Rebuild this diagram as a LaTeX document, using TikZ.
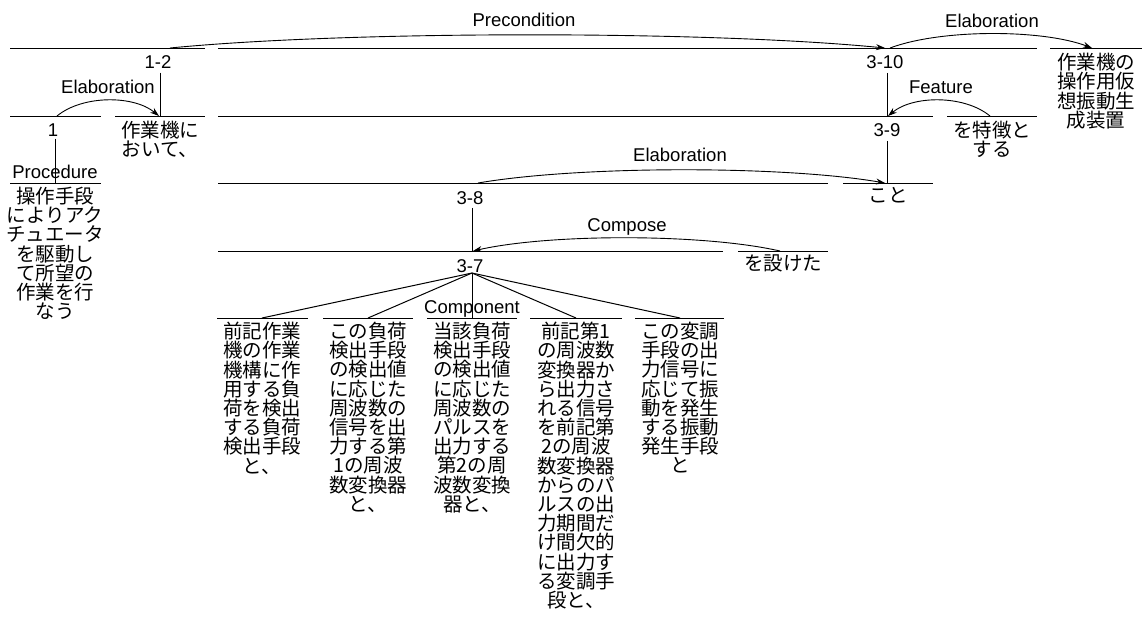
\documentclass[tikz,border=0pt]{standalone}
\usepackage{fontspec}
\setmainfont{Liberation Sans}
\newfontfamily\jpfont{Noto Sans CJK JP}
\usetikzlibrary{arrows.meta,calc}
\tikzset{
  seg/.style={line width=1pt},
  stem/.style={line width=1pt},
  num/.style={font=\fontsize{18.5}{20}\selectfont, inner sep=0pt, anchor=base},
  rlab/.style={font=\fontsize{18.5}{20}\selectfont, inner sep=0pt, anchor=base},
  jtext/.style={font=\jpfont\fontsize{19.5}{19.2}\selectfont, align=center, inner sep=0pt, anchor=north},
  rel/.style={line width=0.9pt, -{Stealth[length=9pt,width=6pt]}},
}
\newcommand\relarc[3]{\draw[rel] (#1) .. controls ($(#1)!0.25!(#2)+(0,-#3)$) and ($(#1)!0.75!(#2)+(0,-#3)$) .. (#2);}
\begin{document}
\begin{tikzpicture}[x=1pt,y=-1pt]
\useasboundingbox (0,0) rectangle (1145,633);
\fill[white] (0,0) rectangle (1145,633);

% horizontal segments
\draw[seg] (10,48) -- (205,48);
\draw[seg] (218,48) -- (1037,48);
\draw[seg] (1050,48) -- (1142,48);
\draw[seg] (10,116) -- (101,116);
\draw[seg] (115,116) -- (205,116);
\draw[seg] (218,116) -- (933,116);
\draw[seg] (947,116) -- (1037,116);
\draw[seg] (10,183) -- (101,183);
\draw[seg] (218,183) -- (828,183);
\draw[seg] (843,183) -- (933,183);
\draw[seg] (218,251) -- (723,251);
\draw[seg] (738,251) -- (828,251);
\draw[seg] (217,318) -- (308,318);
\draw[seg] (323,318) -- (413,318);
\draw[seg] (427,318) -- (517,318);
\draw[seg] (530,318) -- (622,318);
\draw[seg] (635,318) -- (724,318);

% span labels
\node[num] (n12) at (158,68.5) {1-2};
\node[num] (n1) at (53,136.5) {1};
\node[num] (n310) at (885,68.5) {3-10};
\node[num] (n39) at (887,136.5) {3-9};
\node[num] (n38) at (470,204.5) {3-8};
\node[num] (n37) at (470,272) {3-7};

% texts
\node[jtext] (tsagyo) at (160,121) {作業機に\\おいて、};
\node[jtext] (tproc) at (55,187) {操作手段\\によりアク\\チュエータ\\を駆動し\\て所望の\\作業を行\\なう};
\node[jtext] (ttoku) at (992,121) {を特徴と\\する};
\node[jtext] (tkoto) at (888,187) {こと};
\node[jtext] (tmoke) at (783,255) {を設けた};
\node[jtext] (tsochi) at (1096,53) {作業機の\\操作用仮\\想振動生\\成装置};
\node[jtext] (c1) at (262,322) {前記作業\\機の作業\\機構に作\\用する負\\荷を検出\\する負荷\\検出手段\\と、};
\node[jtext] (c2) at (368,322) {この負荷\\検出手段\\の検出値\\に応じた\\周波数の\\信号を出\\力する第\\1の周波\\数変換器\\と、};
\node[jtext] (c3) at (472,322) {当該負荷\\検出手段\\の検出値\\に応じた\\周波数の\\パルスを\\出力する\\第2の周\\波数変換\\器と、};
\node[jtext] (c4) at (576,322) {前記第1\\の周波数\\変換器か\\ら出力さ\\れる信号\\を前記第\\2の周波\\数変換器\\からのパ\\ルスの出\\力期間だ\\け間欠的\\に出力す\\る変調手\\段と、};
\node[jtext] (c5) at (680,322) {この変調\\手段の出\\力信号に\\応じて振\\動を発生\\する振動\\発生手段\\と};

% relation labels
\node[rlab] (rpre) at (524,26) {Precondition};
\node[rlab] (relab1) at (992,27) {Elaboration};
\node[rlab] (rfeat) at (941,93) {Feature};
\node[rlab] (relab2) at (108,93) {Elaboration};
\node[rlab] (relab3) at (680,161) {Elaboration};
\node[rlab] (rcomp) at (627,231) {Compose};
\node[rlab] (rproc) at (55,178) {Procedure};
\node[rlab] (rcompo) at (472,313) {Component};

% attach points
\coordinate (hsagyo) at (160,116);
\coordinate (hproc) at (55,183);
\coordinate (h39) at (887,116);
\coordinate (hkoto) at (887,183);
\coordinate (h37) at (472,251);
\coordinate (hc3) at (472,318);
\coordinate (fan) at (472,273);
\coordinate (hc1) at (262,318);
\coordinate (hc2) at (368,318);
\coordinate (hc4) at (576,318);
\coordinate (hc5) at (680,318);

% stems
\draw[stem] (hsagyo |- n12.south) ++(0,4) -- (hsagyo);
\draw[stem] (hproc |- n1.south) ++(0,2) -- (hproc);
\draw[stem] (h39 |- n310.south) ++(0,4) -- (h39);
\draw[stem] (hkoto |- n39.south) ++(0,4) -- (hkoto);
\draw[stem] (h37 |- n38.south) ++(0,3) -- (h37);
\draw[stem] (fan) -- (hc3);
\draw[stem] (fan) -- (hc1);
\draw[stem] (fan) -- (hc2);
\draw[stem] (fan) -- (hc4);
\draw[stem] (fan) -- (hc5);

% relation arcs
\coordinate (e1s) at (57,116);   \coordinate (e1e) at (159,116);
\coordinate (pres) at (170,48);  \coordinate (pree) at (885,48);
\coordinate (e2s) at (890,48);   \coordinate (e2e) at (1092,48);
\coordinate (fs) at (990,116);   \coordinate (fe) at (888,116);
\coordinate (e3s) at (478,183);  \coordinate (e3e) at (885,183);
\coordinate (cs) at (780,251);   \coordinate (ce) at (473,251);
\relarc{e1s}{e1e}{21}
\relarc{pres}{pree}{17.5}
\relarc{e2s}{e2e}{19}
\relarc{fs}{fe}{21}
\relarc{e3s}{e3e}{17.5}
\relarc{cs}{ce}{17.5}
\end{tikzpicture}
\end{document}
